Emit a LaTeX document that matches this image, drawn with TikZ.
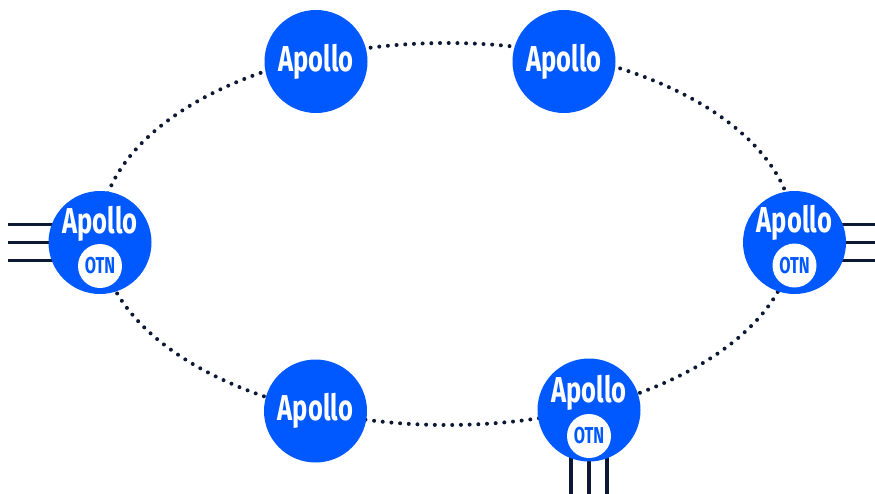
\documentclass[tikz,border=0pt]{standalone}
\usepackage{fontspec}
\newfontfamily\apollofont[FakeStretch=0.71]{Fira Sans}
\usetikzlibrary{positioning}
\usetikzlibrary{backgrounds}
\definecolor{apblue}{RGB}{0,88,255}
\definecolor{navy}{RGB}{12,24,52}
\tikzset{
    apnode/.style = {circle, fill=apblue, minimum size=103pt, inner sep=0pt, align=center,font=\apollofont\bfseries\fontsize{36}{36}\selectfont,text=white},
    aptext/.style = {inner sep=0pt, anchor=base, font=\apollofont\bfseries\fontsize{36}{36}\selectfont, text=white},
    otnnode/.style = {circle, fill=white, minimum size=44pt, inner sep=0pt, font=\apollofont\bfseries\fontsize{23}{23}\selectfont,text=apblue},
    ring/.style = {line width=4pt, navy, line cap=round, dash pattern=on 0pt off 8.7pt}, % dotted ring
    trunk/.style = {line width=3.2pt, navy}, % client lines
}
\begin{document}
\begin{tikzpicture}[x=1pt,y=-1pt]
\useasboundingbox (0,0) rectangle (875,493);
%
\coordinate (ring) at (447,234);
\draw[ring] (ring) ellipse [x radius=347, y radius=191];
%
\node[apnode] at (316,61.5) (tl) {Apollo};
\node[apnode] at (564,61.5) (tr) {Apollo};
\node[apnode] at (315.5,411) (bl) {Apollo};
\node[apnode] at (100,242.5) (wl) {};
\node[apnode] at (794.5,242.5) (el) {};
\node[apnode] at (589,410) (br) {};
%
\node[aptext] at ([yshift=9.5pt]wl.center) (wlt) {Apollo};
\node[otnnode] at ([yshift=-23.5pt]wl.center) (wlo) {OTN};
\node[aptext] at ([yshift=10pt]el.center) (elt) {Apollo};
\node[otnnode] at ([yshift=-23pt]el.center) (elo) {OTN};
\node[aptext] at ([yshift=8pt]br.center) (brt) {Apollo};
\node[otnnode] at ([yshift=-26pt]br.center) (bro) {OTN};
%
\begin{scope}[on background layer]
\foreach \d in {-18,0,18} {
    \draw[trunk] ([yshift=\d pt]wl.center) -- ++(-92,0);
    \draw[trunk] ([yshift=\d pt]el.center) -- ++(81,0);
    \draw[trunk] ([xshift=\d pt]br.center) -- ++(0,84);
}
\end{scope}
\end{tikzpicture}
\end{document}
